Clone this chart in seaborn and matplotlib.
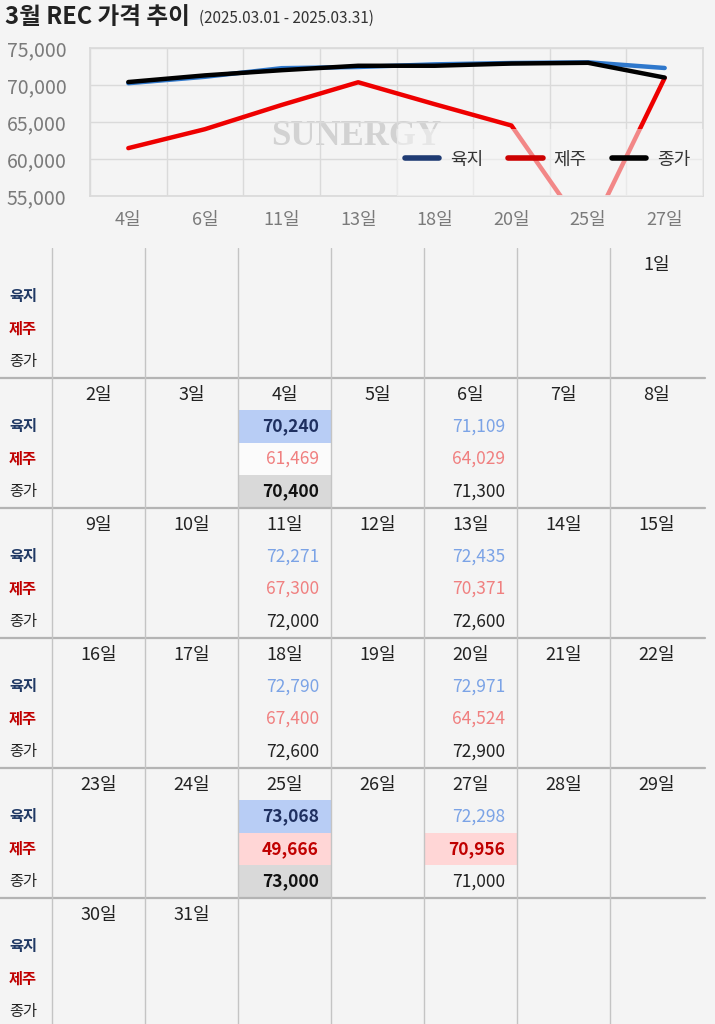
import calendar
import numpy as np
import pandas as pd
import seaborn as sns
import matplotlib.pyplot as plt
from matplotlib.lines import Line2D
from matplotlib.patches import Rectangle

# 3월 REC 가격 (거래일만)
days = [4, 6, 11, 13, 18, 20, 25, 27]
yukji = [70240, 71109, 72271, 72435, 72790, 72971, 73068, 72298]
jeju = [61469, 64029, 67300, 70371, 67400, 64524, 49666, 70956]
close = [70400, 71300, 72000, 72600, 72600, 72900, 73000, 71000]
series_names = ['육지', '제주', '종가']
yticks = [55000, 60000, 65000, 70000, 75000]
white_cells = [(4, '제주')]

BG = '#f4f4f4'
W, H = 715, 1024

sns.set_theme(style='white', rc={'axes.facecolor': BG, 'figure.facecolor': BG})
plt.rcParams['font.family'] = ['Noto Sans CJK KR', 'DejaVu Sans']

df = pd.DataFrame({
    '날짜': [f'{d}일' for d in days] * 3,
    '구분': np.repeat(series_names, len(days)),
    '가격': yukji + jeju + close,
})

fig = plt.figure(figsize=(W / 100, H / 100), dpi=100)

# ---- 상단 라인 차트 ----
ax = fig.add_axes([90 / W, 1 - 196 / H, (703 - 90) / W, (196 - 48) / H])
sns.lineplot(data=df, x='날짜', y='가격', hue='구분', hue_order=series_names,
             palette=['#2f78cc', '#ee0000', '#000000'], linewidth=3.2,
             sort=False, legend=False, ax=ax)
ax.set_xlim(-0.5, len(days) - 0.5)
ax.set_ylim(yticks[0], yticks[-1])
ax.set_yticks(yticks)
ax.set_yticklabels([f'{v:,}' for v in yticks])
ax.set_xticks(np.arange(-0.5, len(days), 1), minor=True)
ax.grid(which='minor', axis='x', color='#dadada', lw=1)
ax.grid(which='major', axis='y', color='#dadada', lw=1)
ax.tick_params(which='both', length=0)
ax.tick_params(axis='y', pad=17, labelsize=14, labelcolor='#7a7a7a')
ax.tick_params(axis='x', pad=11, labelsize=13, labelcolor='#7a7a7a')
ax.set_xlabel('')
ax.set_ylabel('')
for s in ax.spines.values():
    s.set_color('#dadada')

ax.text(0.434, 0.40, 'SUNERGY', transform=ax.transAxes, ha='center', va='center',
        fontfamily='Liberation Serif', fontweight='bold', fontsize=25,
        color='#d2d2d2', zorder=0.5)

# 범례 뒤 반투명 영역
ax.add_patch(Rectangle((0.5, 0.0), 0.5, 0.45, transform=ax.transAxes,
                       facecolor='#f7f7f7', alpha=0.55, edgecolor='none', zorder=4))
handles = [Line2D([], [], color=c, lw=4, solid_capstyle='round')
           for c in ['#1f3b73', '#cc0000', '#000000']]
leg = ax.legend(handles, series_names, loc='lower right', bbox_to_anchor=(1.0, 0.1),
                ncol=3, frameon=False, fontsize=13, handlelength=1.9,
                handletextpad=0.6, columnspacing=1.4, borderpad=0.7,
                borderaxespad=0.0)
for t in leg.get_texts():
    t.set_color('#333333')

fig.text(5 / W, 1 - 17 / H, '3월 REC 가격 추이', fontsize=17, fontweight='bold',
         va='center', color='#222222')
fig.text(199 / W, 1 - 18 / H, '(2025.03.01 - 2025.03.31)', fontsize=11,
         va='center', color='#333333')

# ---- 하단 달력 ----
COL, ROW = 93, 130
LBL = 52 / COL
n_rows = (H - 248) / ROW
cal = fig.add_axes([0, 0, 1, (H - 248) / H])
cal.set_xlim(0, W / COL)
cal.set_ylim(n_rows, 0)
cal.axis('off')

for r in range(1, 6):
    cal.plot([0, 705 / COL], [r, r], color='#b4b4b4', lw=1.6)
for k in range(7):
    cal.plot([LBL + k, LBL + k], [0, n_rows], color='#c4c4c4', lw=1)

band_top = [32, 65, 97]
band_h = [33, 32, 33]
label_style = [('#1f3864', 'bold'), ('#c00000', 'bold'), ('#222222', 'normal')]
for r in range(6):
    for j, name in enumerate(series_names):
        cy = r + (band_top[j] + band_h[j] / 2) / ROW
        cal.text(9 / COL, cy, name, ha='left', va='center', fontsize=11,
                 color=label_style[j][0], fontweight=label_style[j][1])

first_col = (calendar.weekday(2025, 3, 1) + 1) % 7


def cell_of(d):
    idx = first_col + d - 1
    return idx // 7, idx % 7


for d in range(1, 32):
    r, c = cell_of(d)
    cal.text(LBL + c + 0.5, r + 17 / ROW, f'{d}일', ha='center', va='center',
             fontsize=13, color='#222222')

hl_bg = ['#b8cdf5', '#ffd6d6', '#d9d9d9']
hl_fg = ['#1f3060', '#c00000', '#111111']
plain_fg = ['#7ba3e6', '#f08080', '#222222']
for j, (name, vals) in enumerate(zip(series_names, [yukji, jeju, close])):
    for i, d in enumerate(days):
        r, c = cell_of(d)
        top = r + band_top[j] / ROW
        cy = top + band_h[j] / 2 / ROW
        hl = vals[i] in (max(vals), min(vals))
        if hl:
            cal.add_patch(Rectangle((LBL + c, top), 1, band_h[j] / ROW,
                                    facecolor=hl_bg[j], edgecolor='none', zorder=0))
        elif (d, name) in white_cells:
            cal.add_patch(Rectangle((LBL + c, top), 1, band_h[j] / ROW,
                                    facecolor='#fbfbfb', edgecolor='none', zorder=0))
        cal.text(LBL + c + 1 - 12 / COL, cy, f'{vals[i]:,}', ha='right', va='center',
                 fontsize=12.5, color=hl_fg[j] if hl else plain_fg[j],
                 fontweight='bold' if hl else 'normal')

fig.savefig('out.png', dpi=100, facecolor=BG)
